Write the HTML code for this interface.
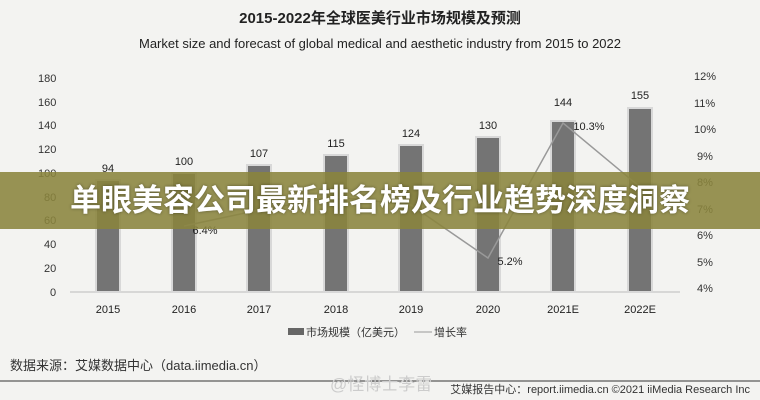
<!DOCTYPE html>
<html><head><meta charset="utf-8"><style>
html,body{margin:0;padding:0;width:760px;height:400px;overflow:hidden;background:#f3f3f1}
svg{display:block}
.banner{position:absolute;left:0;top:172px;width:760px;height:57px;background:rgba(138,132,60,0.88);color:#fff;font:bold 31px "Liberation Sans","Noto Sans CJK SC",sans-serif;text-align:center;line-height:57px;letter-spacing:0px;text-shadow:0 0 3px rgba(0,0,0,.4)}
</style></head><body>
<div style="position:relative;width:760px;height:400px">
<svg width="760" height="400" font-family="Liberation Sans, Noto Sans CJK SC, sans-serif">
<text x="380" y="23" text-anchor="middle" font-size="15" font-weight="bold" fill="#222">2015-2022年全球医美行业市场规模及预测</text>
<text x="380" y="48" text-anchor="middle" font-size="13" fill="#222">Market size and forecast of global medical and aesthetic industry from 2015 to 2022</text>
<g font-size="11" fill="#333">
<text x="38" y="82">180</text><text x="38" y="106">160</text><text x="38" y="129">140</text><text x="38" y="153">120</text><text x="38" y="177">100</text><text x="44" y="201">80</text><text x="44" y="224">60</text><text x="44" y="248">40</text><text x="44" y="272">20</text><text x="50" y="296">0</text>
<text x="694" y="80">12%</text><text x="694" y="107">11%</text><text x="694" y="133">10%</text><text x="697" y="160">9%</text><text x="697" y="186">8%</text><text x="697" y="213">7%</text><text x="697" y="239">6%</text><text x="697" y="266">5%</text><text x="697" y="292">4%</text>
</g>
<line x1="70" y1="292" x2="680" y2="292" stroke="#bbb"/>
<g fill="#747474" stroke="#d8d8d8" stroke-width="2">
<rect x="96" y="180" width="24" height="112"/><rect x="172" y="173" width="24" height="119"/><rect x="247" y="165" width="24" height="127"/><rect x="324" y="155" width="24" height="137"/><rect x="399" y="145" width="24" height="147"/><rect x="476" y="137" width="24" height="155"/><rect x="551" y="121" width="24" height="171"/><rect x="628" y="108" width="24" height="184"/>
</g>
<polyline points="184,226 259,210 336,197 411,205 488,258 563,123 640,187" fill="none" stroke="#999" stroke-width="1.5"/>
<g font-size="11" fill="#222" text-anchor="middle">
<text x="108" y="172">94</text><text x="184" y="165">100</text><text x="259" y="157">107</text><text x="336" y="147">115</text><text x="411" y="137">124</text><text x="488" y="129">130</text><text x="563" y="106">144</text><text x="640" y="99">155</text>
<text x="205" y="234">6.4%</text><text x="510" y="265">5.2%</text><text x="589" y="130">10.3%</text>
<text x="108" y="313">2015</text><text x="184" y="313">2016</text><text x="259" y="313">2017</text><text x="336" y="313">2018</text><text x="411" y="313">2019</text><text x="488" y="313">2020</text><text x="563" y="313">2021E</text><text x="640" y="313">2022E</text>
</g>
<rect x="288" y="328" width="16" height="7" fill="#666"/>
<text x="306" y="336" font-size="11" fill="#333">市场规模（亿美元）</text>
<line x1="414" y1="332" x2="432" y2="332" stroke="#999"/>
<text x="434" y="336" font-size="11" fill="#333">增长率</text>
<text x="10" y="370" font-size="13" fill="#333">数据来源：艾媒数据中心（data.iimedia.cn）</text>
<line x1="0" y1="381" x2="760" y2="381" stroke="#333"/>
<text x="330" y="390" font-size="17" fill="#ccc">@怪博士李雷</text>
<text x="750" y="393" text-anchor="end" font-size="11" fill="#333">艾媒报告中心：report.iimedia.cn ©2021 iiMedia Research Inc</text>
</svg>
<div class="banner">单眼美容公司最新排名榜及行业趋势深度洞察</div>
</div>
</body></html>
